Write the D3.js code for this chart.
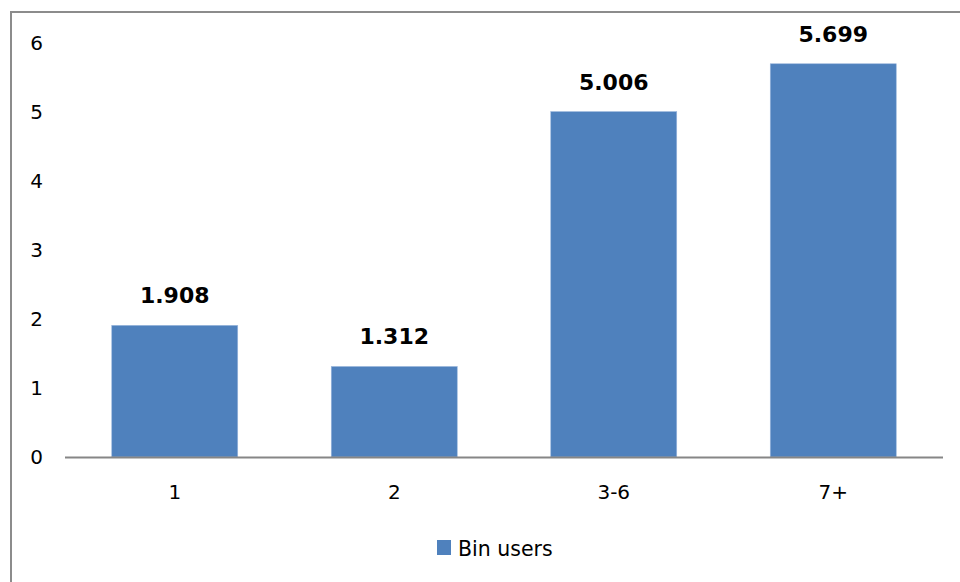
<!DOCTYPE html>
<html>
<head>
<meta charset="utf-8">
<script src="https://cdn.jsdelivr.net/npm/d3@7"></script>
<style>
  html, body { margin: 0; padding: 0; background: #fff; }
  svg { display: block; font-family: "DejaVu Sans", Verdana, sans-serif; }
</style>
</head>
<body>
<script>
// data
const categories = ["1", "2", "3-6", "7+"]
const values = [1.908, 1.312, 5.006, 5.699]
const yTicks = [0, 1, 2, 3, 4, 5, 6]
const seriesName = "Bin users"

const width = 960, height = 582
const margin = {top: 43, right: 17, bottom: 125, left: 65}

const svg = d3.select("body").append("svg")
    .attr("width", width)
    .attr("height", height)

// outer frame
svg.append("rect")
    .attr("x", 11).attr("y", 12)
    .attr("width", width + 10).attr("height", height + 10)
    .attr("fill", "none")
    .attr("stroke", "#8c8c8c")
    .attr("stroke-width", 2)

const x = d3.scaleBand()
    .domain(categories)
    .range([margin.left, width - margin.right])
    .paddingInner(0.426)
    .paddingOuter(0.213)

const y = d3.scaleLinear()
    .domain([0, 6])
    .range([height - margin.bottom, margin.top])

// y tick labels (no axis line)
svg.append("g")
  .selectAll("text")
  .data(yTicks)
  .join("text")
    .attr("x", 43)
    .attr("y", d => y(d))
    .attr("dy", "0.35em")
    .attr("text-anchor", "end")
    .attr("font-size", 20)
    .attr("fill", "#000")
    .text(d => d)

// bars
svg.append("g")
  .selectAll("rect")
  .data(values)
  .join("rect")
    .attr("x", (d, i) => x(categories[i]))
    .attr("y", d => y(d))
    .attr("width", x.bandwidth())
    .attr("height", d => y(0) - y(d))
    .attr("fill", "#4f81bd")
    .attr("stroke", "#9bb7dc")
    .attr("stroke-width", 0.6)

// baseline
svg.append("line")
    .attr("x1", margin.left).attr("x2", width - margin.right)
    .attr("y1", y(0) + 0.5).attr("y2", y(0) + 0.5)
    .attr("stroke", "#868686")
    .attr("stroke-width", 2)

// value labels
svg.append("g")
  .selectAll("text")
  .data(values)
  .join("text")
    .attr("x", (d, i) => x(categories[i]) + x.bandwidth() / 2)
    .attr("y", d => y(d) - 22)
    .attr("text-anchor", "middle")
    .attr("font-size", 22)
    .attr("font-weight", "bold")
    .attr("fill", "#000")
    .text(d => d3.format(".3f")(d))

// category labels
svg.append("g")
  .selectAll("text")
  .data(categories)
  .join("text")
    .attr("x", d => x(d) + x.bandwidth() / 2)
    .attr("y", y(0) + 42)
    .attr("text-anchor", "middle")
    .attr("font-size", 20)
    .attr("fill", "#000")
    .text(d => d)

// legend
const legend = svg.append("g").attr("transform", "translate(437,540)")
legend.append("rect")
    .attr("width", 14).attr("height", 15)
    .attr("fill", "#4f81bd")
legend.append("text")
    .attr("x", 21).attr("y", 9)
    .attr("dy", "0.35em")
    .attr("font-size", 20.5)
    .attr("fill", "#000")
    .text(seriesName)
</script>
</body>
</html>
